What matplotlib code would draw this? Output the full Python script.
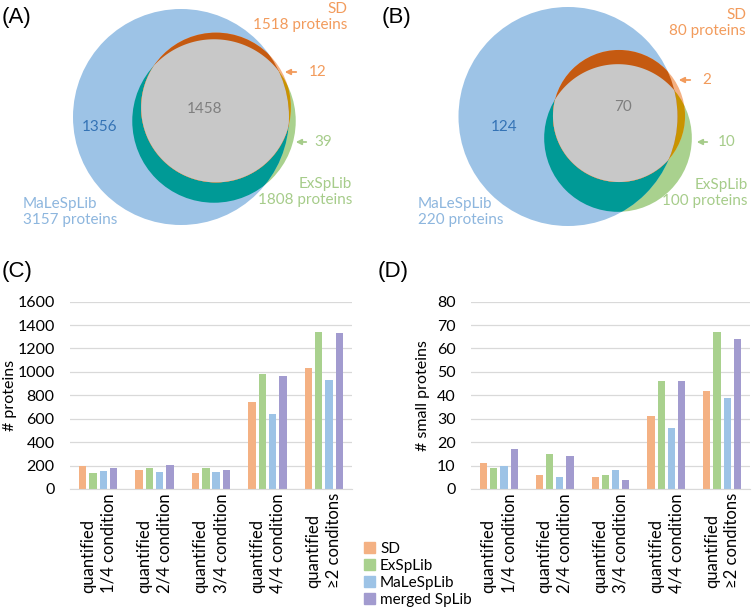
import numpy as np
import matplotlib
matplotlib.use("Agg")
import matplotlib.pyplot as plt
from matplotlib.patches import Circle, Polygon, Patch

plt.rcParams['font.family'] = ['Lato', 'DejaVu Sans']

# ---- data ----
libs = ["SD", "ExSpLib", "MaLeSpLib", "merged SpLib"]
lib_colors = ["#F4B183", "#A9D18E", "#9DC3E6", "#A29BCF"]
groups = ["quantified\n1/4 condition", "quantified\n2/4 condition",
          "quantified\n3/4 condition", "quantified\n4/4 condition",
          "quantified\n\u22652 conditons"]

proteins = {
    "SD":           [195, 160, 135, 740, 1035],
    "ExSpLib":      [140, 180, 180, 980, 1340],
    "MaLeSpLib":    [150, 145, 145, 640, 930],
    "merged SpLib": [180, 205, 160, 965, 1335],
}
small_proteins = {
    "SD":           [11, 6, 5, 31, 42],
    "ExSpLib":      [9, 15, 6, 46, 67],
    "MaLeSpLib":    [10, 5, 8, 26, 39],
    "merged SpLib": [17, 14, 4, 46, 64],
}

# venn totals and region counts
venn_a = dict(male=3157, ex=1808, sd=1518, male_only=1356, all3=1458, sd_only=12, ex_only=39)
venn_b = dict(male=220, ex=100, sd=80, male_only=124, all3=70, sd_only=2, ex_only=10)

W, H = 752, 611
fig = plt.figure(figsize=(W / 100, H / 100), dpi=100)
bg = fig.add_axes([0, 0, 1, 1])
bg.set_xlim(0, W)
bg.set_ylim(H, 0)
bg.axis('off')

c_blue = "#9DC3E6"
c_green = "#A9D18E"
c_teal = "#009A96"
c_lorange = "#F4B183"
c_dorange = "#C55A11"
c_gold = "#C89400"
c_gray = "#C8C8C8"


def lens(c1, r1, c2, r2, n=720):
    t = np.linspace(0, 2 * np.pi, n, endpoint=False)
    p1 = np.c_[c1[0] + r1 * np.cos(t), c1[1] + r1 * np.sin(t)]
    p2 = np.c_[c2[0] + r2 * np.cos(t), c2[1] + r2 * np.sin(t)]
    p1 = p1[np.hypot(p1[:, 0] - c2[0], p1[:, 1] - c2[1]) <= r2]
    p2 = p2[np.hypot(p2[:, 0] - c1[0], p2[:, 1] - c1[1]) <= r1]
    pts = np.vstack([p1, p2])
    m = pts.mean(axis=0)
    ang = np.arctan2(pts[:, 1] - m[1], pts[:, 0] - m[0])
    return pts[np.argsort(ang)]


def venn(ax, v, r_male, c_male, c_ex, c_sd):
    # circle areas follow the set sizes
    k = r_male / np.sqrt(v["male"])
    r_ex = k * np.sqrt(v["ex"])
    r_sd = k * np.sqrt(v["sd"])
    tr = ax.transData
    ax.add_patch(Circle(c_ex, r_ex, color=c_green, lw=0))
    ax.add_patch(Circle(c_male, r_male, color=c_blue, lw=0))
    p = Circle(c_ex, r_ex, color=c_teal, lw=0)
    ax.add_patch(p)
    p.set_clip_path(Circle(c_male, r_male, transform=tr))
    ax.add_patch(Circle(c_sd, r_sd, color=c_lorange, lw=0))
    p = Circle(c_sd, r_sd, color=c_gold, lw=0)
    ax.add_patch(p)
    p.set_clip_path(Circle(c_ex, r_ex, transform=tr))
    p = Circle(c_sd, r_sd, color=c_dorange, lw=0)
    ax.add_patch(p)
    p.set_clip_path(Circle(c_male, r_male, transform=tr))
    p = Polygon(lens(c_sd, r_sd, c_ex, r_ex), closed=True, color=c_gray, lw=0)
    ax.add_patch(p)
    p.set_clip_path(Circle(c_male, r_male, transform=tr))


venn(bg, venn_a, 108, (181, 117), (214, 121), (216, 107.5))
venn(bg, venn_b, 109.5, (568, 116.5), (618, 138), (619, 116))

t_or = "#F29B5C"
t_bl = "#8DB6DE"
t_gr = "#A6CC8A"
vfs = 11


def venn_text(ax, v, p):
    ax.text(*p["sd"], "SD\n%d proteins" % v["sd"], color=t_or,
            ha="right", va="center", fontsize=vfs, linespacing=1.25)
    ax.text(*p["ex"], "ExSpLib\n%d proteins" % v["ex"], color=t_gr,
            ha="right", va="center", fontsize=vfs, linespacing=1.25)
    ax.text(*p["male"], "MaLeSpLib\n%d proteins" % v["male"], color=t_bl,
            ha="left", va="center", fontsize=vfs, linespacing=1.25)
    ax.text(*p["n_male"], str(v["male_only"]), color="#3473B5",
            ha="center", va="center", fontsize=vfs)
    ax.text(*p["n_all"], str(v["all3"]), color="#7F7F7F",
            ha="center", va="center", fontsize=vfs)
    ax.text(*p["n_sd"], str(v["sd_only"]), color=t_or,
            ha="left", va="center", fontsize=vfs)
    ax.text(*p["n_ex"], str(v["ex_only"]), color=t_gr,
            ha="left", va="center", fontsize=vfs)
    ax.annotate("", xy=p["a_sd"], xytext=(p["a_sd"][0] + 17, p["a_sd"][1]),
                arrowprops=dict(arrowstyle="-|>", color=t_or, lw=1.3, mutation_scale=8))
    ax.annotate("", xy=p["a_ex"], xytext=(p["a_ex"][0] + 16, p["a_ex"][1]),
                arrowprops=dict(arrowstyle="-|>", color=t_gr, lw=1.3, mutation_scale=8))


venn_text(bg, venn_a, dict(sd=(347, 17), ex=(352, 192), male=(23, 212),
                           n_male=(100, 127), n_all=(205, 109), n_sd=(309, 72),
                           n_ex=(314, 142), a_sd=(282, 72), a_ex=(293, 142)))
venn_text(bg, venn_b, dict(sd=(746, 23), ex=(748, 193), male=(418, 212),
                           n_male=(504, 127), n_all=(623, 107), n_sd=(702, 80),
                           n_ex=(718, 142), a_sd=(676, 80), a_ex=(694, 142)))

for lab, x, y in [("(A)", 2, 17), ("(B)", 382, 17), ("(C)", 2, 272), ("(D)", 378, 272)]:
    bg.text(x, y, lab, fontsize=16, family="Liberation Sans", ha="left", va="center")


# ---- bar charts ----
def bars(rect, data, ymax, step, ylabel, label_x):
    l, t, r, b = rect
    ax = fig.add_axes([l / W, 1 - b / H, (r - l) / W, (b - t) / H])
    x = np.arange(len(groups))
    stride = 0.183
    for i, lib in enumerate(libs):
        ax.bar(x + (i - 1.5) * stride, data[lib], width=0.13, color=lib_colors[i], zorder=2)
    ax.set_xlim(-0.5, len(groups) - 0.5)
    ax.set_ylim(0, ymax)
    ax.set_yticks(np.arange(0, ymax + 1, step))
    ax.grid(axis="y", color="#D9D9D9", lw=0.9, zorder=0)
    for s in ["top", "right", "left"]:
        ax.spines[s].set_visible(False)
    ax.spines["bottom"].set_color("#D9D9D9")
    ax.tick_params(length=0, labelsize=11.5)
    ax.tick_params(axis="y", pad=11)
    ax.tick_params(axis="x", pad=3)
    ax.set_xticks(x)
    ax.set_xticklabels(groups, rotation=90, fontsize=12, multialignment="left",
                       linespacing=1.35)
    ax.set_ylabel(ylabel, fontsize=11.5)
    ax.yaxis.set_label_coords((label_x - l) / (r - l), 0.5)
    return ax


axc = bars((70, 301.6, 352, 489), proteins, 1600, 200, "# proteins", 17)
axd = bars((471, 301.6, 750, 489), small_proteins, 80, 10, "# small proteins", 430)

handles = [Patch(color=c) for c in lib_colors]
fig.legend(handles, libs, loc="upper left", bbox_to_anchor=(364 / W, 1 - 542 / H),
           frameon=False, fontsize=11, handlelength=0.7, handleheight=0.7,
           handletextpad=0.35, labelspacing=0.2, borderpad=0, borderaxespad=0)

fig.savefig("out.png", dpi=100)
